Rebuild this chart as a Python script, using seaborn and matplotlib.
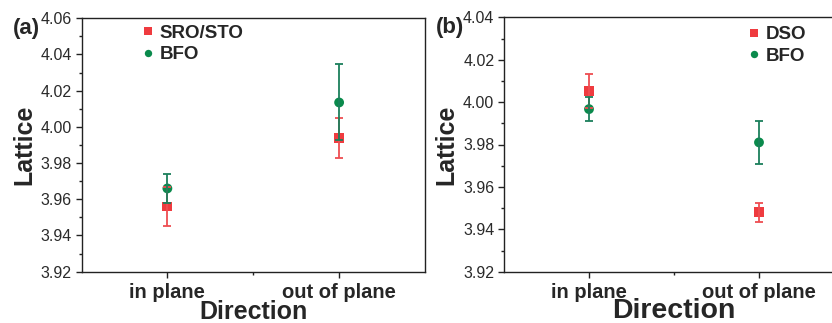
import numpy as np
import pandas as pd
import matplotlib
matplotlib.use("Agg")
import matplotlib.pyplot as plt
from matplotlib.ticker import MultipleLocator, FixedLocator
import seaborn as sns

# ---- data ----
directions = ["in plane", "out of plane"]

a_sub_name = "SRO/STO"
a_sub = [3.956, 3.994]
a_sub_err = [0.011, 0.011]
a_bfo = [3.966, 4.0135]
a_bfo_err = [0.0078, 0.021]

b_sub_name = "DSO"
b_sub = [4.0053, 3.948]
b_sub_err = [0.008, 0.0045]
b_bfo = [3.9967, 3.981]
b_bfo_err = [0.0058, 0.010]

# ---- style ----
sns.set_style("ticks")
plt.rcParams["font.family"] = ["Liberation Sans", "DejaVu Sans"]

RED = "#EF3B3F"
RED_ERR = "#EE4D52"
GREEN = "#0A8A4C"
GREEN_ERR = "#1B7F5C"

fig = plt.figure(figsize=(8.32, 3.23), dpi=100)
ax_a = fig.add_axes([81.5 / 832, 51.3 / 323, 343.5 / 832, 253.4 / 323])
ax_b = fig.add_axes([504 / 832, 51.3 / 323, 340 / 832, 254.4 / 323])


def draw(ax, sub_name, sub, sub_err, bfo, bfo_err, ylim, label, dir_size, dir_pad, leg_x, leg_y):
    pos = np.arange(1, len(directions) + 1)
    df = pd.DataFrame({
        "pos": np.concatenate([pos, pos]),
        "Lattice": np.concatenate([sub, bfo]),
        "err": np.concatenate([sub_err, bfo_err]),
        "series": [sub_name] * len(pos) + ["BFO"] * len(pos),
    })
    sns.scatterplot(data=df, x="pos", y="Lattice", hue="series", style="series",
                    markers={sub_name: "s", "BFO": "o"},
                    palette={sub_name: RED, "BFO": GREEN},
                    s=50, linewidth=0, ax=ax, zorder=2, legend=True)
    for name, col in [(sub_name, RED_ERR), ("BFO", GREEN_ERR)]:
        d = df[df["series"] == name]
        ax.errorbar(d["pos"], d["Lattice"], yerr=d["err"], fmt="none",
                    ecolor=col, elinewidth=1.3, capsize=3.2, capthick=1.3, zorder=3)

    ax.set_xlim(0.5, 2.5)
    ax.set_ylim(*ylim)
    ax.xaxis.set_major_locator(FixedLocator(pos))
    ax.xaxis.set_minor_locator(FixedLocator([1.5]))
    ax.set_xticklabels(directions, fontsize=14.5, fontweight="bold")
    ax.yaxis.set_major_locator(MultipleLocator(0.02))
    ax.yaxis.set_minor_locator(MultipleLocator(0.01))
    ax.yaxis.set_major_formatter(matplotlib.ticker.FormatStrFormatter("%.2f"))
    for t in ax.get_yticklabels():
        t.set_fontsize(11.5)
        t.set_color("#2a2a2a")
    ax.tick_params(axis="both", which="major", direction="out", length=4, width=1, color="#222", pad=3)
    ax.tick_params(axis="both", which="minor", direction="out", length=2.5, width=1, color="#222")
    ax.tick_params(axis="x", which="major", pad=4)
    for sp in ax.spines.values():
        sp.set_visible(True)
        sp.set_linewidth(1.0)
        sp.set_color("#222")
    ax.set_xlabel("Direction", fontsize=dir_size, fontweight="bold", labelpad=dir_pad)
    ax.set_ylabel("Lattice", fontsize=18, fontweight="bold", labelpad=3)

    ax.legend(loc="upper left", bbox_to_anchor=(leg_x, leg_y), frameon=False,
              prop={"weight": "bold", "size": 13.5},
              markerscale=0.75, handletextpad=0.1, labelspacing=0.25,
              borderaxespad=0, handlelength=1.0)
    ax.text(-0.2, 0.958, label, transform=ax.transAxes, fontsize=16,
            fontweight="bold", ha="left", va="center")


draw(ax_a, a_sub_name, a_sub, a_sub_err, a_bfo, a_bfo_err, (3.92, 4.06), "(a)", 18, -1.5, 0.145, 1.005)
draw(ax_b, b_sub_name, b_sub, b_sub_err, b_bfo, b_bfo_err, (3.92, 4.04), "(b)", 20.5, -3, 0.686, 0.995)

fig.savefig("out.png", dpi=100)
